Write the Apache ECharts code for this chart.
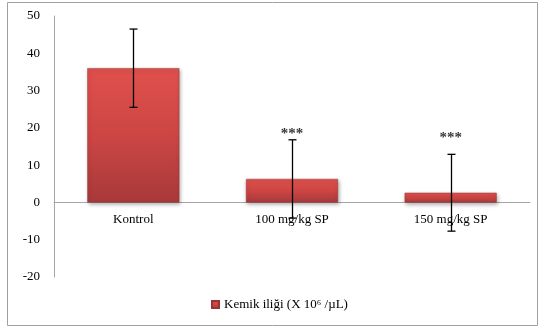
<!DOCTYPE html>
<html>
<head>
<meta charset="utf-8">
<script src="https://cdn.jsdelivr.net/npm/echarts@6/dist/echarts.min.js"></script>
<style>
  html, body { margin: 0; padding: 0; background: #fff; }
  #chart { width: 540px; height: 331px; }
</style>
</head>
<body>
<div id="chart"></div>
<script>
// Groups, means and standard deviations
const categories = ['Kontrol', '100 mg/kg SP', '150 mg/kg SP'];
const means = [36, 6.3, 2.6];
const errors = [10.5, 10.5, 10.3];
const significance = ['', '***', '***'];
const starLevels = [null, 18.3, 17.2];
const yTicks = { min: -20, max: 50, interval: 10 };
const seriesName = 'Kemik iliği (X 10⁶ /µL)';

const chart = echarts.init(document.getElementById('chart'));
const serif = '"Liberation Serif", "Times New Roman", serif';

const barColor = new echarts.graphic.LinearGradient(0, 0, 0, 1, [
  { offset: 0, color: '#e0504c' },
  { offset: 0.5, color: '#cc4644' },
  { offset: 1, color: '#a8393a' }
]);

// Height of the plot and distance from the bottom edge up to the zero line
const gridTop = 16, gridBottom = 54;
const plotHeight = 331 - gridTop - gridBottom;
const zeroOffset = plotHeight * (0 - yTicks.min) / (yTicks.max - yTicks.min);

chart.setOption({
  animation: false,
  graphic: [{
    type: 'rect',
    shape: { x: 7.5, y: 2.5, width: 530, height: 323 },
    style: { fill: 'none', stroke: '#a0a0a0', lineWidth: 1 },
    z: -1
  }],
  grid: { left: 54, right: 10, top: gridTop, bottom: gridBottom },
  legend: {
    data: [{ name: seriesName, icon: 'rect' }],
    left: 206, top: 293,
    itemWidth: 7, itemHeight: 7, itemGap: 3,
    textStyle: { fontFamily: serif, fontSize: 13, color: '#000' }
  },
  xAxis: {
    type: 'category',
    data: categories,
    offset: -zeroOffset,
    axisLine: { onZero: false, lineStyle: { color: '#a6a6a6' } },
    axisTick: { show: false },
    axisLabel: { fontFamily: serif, fontSize: 13, color: '#000', margin: 11 }
  },
  yAxis: {
    type: 'value',
    min: yTicks.min, max: yTicks.max, interval: yTicks.interval,
    axisLine: { show: true, lineStyle: { color: '#a6a6a6' } },
    axisTick: { show: false },
    splitLine: { show: false },
    axisLabel: { fontFamily: serif, fontSize: 13, color: '#000', margin: 14 }
  },
  series: [
    {
      name: seriesName,
      type: 'bar',
      data: means,
      barCategoryGap: '42%',
      itemStyle: {
        color: barColor,
        borderColor: '#9a3434',
        borderWidth: 0.5,
        shadowBlur: 4,
        shadowColor: 'rgba(0,0,0,0.35)',
        shadowOffsetX: 1,
        shadowOffsetY: 2
      }
    },
    {
      name: 'error',
      type: 'custom',
      data: means.map((m, i) => [i, m - errors[i], m + errors[i]]),
      renderItem: function (params, api) {
        const lo = api.coord([api.value(0), api.value(1)]);
        const hi = api.coord([api.value(0), api.value(2)]);
        const x = Math.round(lo[0]) + 0.5;
        const cap = 4;
        const style = { stroke: '#000', lineWidth: 1.3 };
        return {
          type: 'group',
          children: [
            { type: 'line', shape: { x1: x, y1: hi[1], x2: x, y2: lo[1] }, style },
            { type: 'line', shape: { x1: x - cap, y1: hi[1], x2: x + cap, y2: hi[1] }, style },
            { type: 'line', shape: { x1: x - cap, y1: lo[1], x2: x + cap, y2: lo[1] }, style }
          ]
        };
      },
      z: 5
    },
    {
      name: 'stars',
      type: 'scatter',
      symbolSize: 0,
      data: starLevels.map((v, i) => (v === null ? null : [i, v])),
      label: {
        show: true,
        position: 'inside',
        formatter: (p) => significance[p.dataIndex],
        fontFamily: serif,
        fontWeight: 'bold',
        fontSize: 15,
        color: '#000'
      },
      z: 6
    }
  ]
});
</script>
</body>
</html>
